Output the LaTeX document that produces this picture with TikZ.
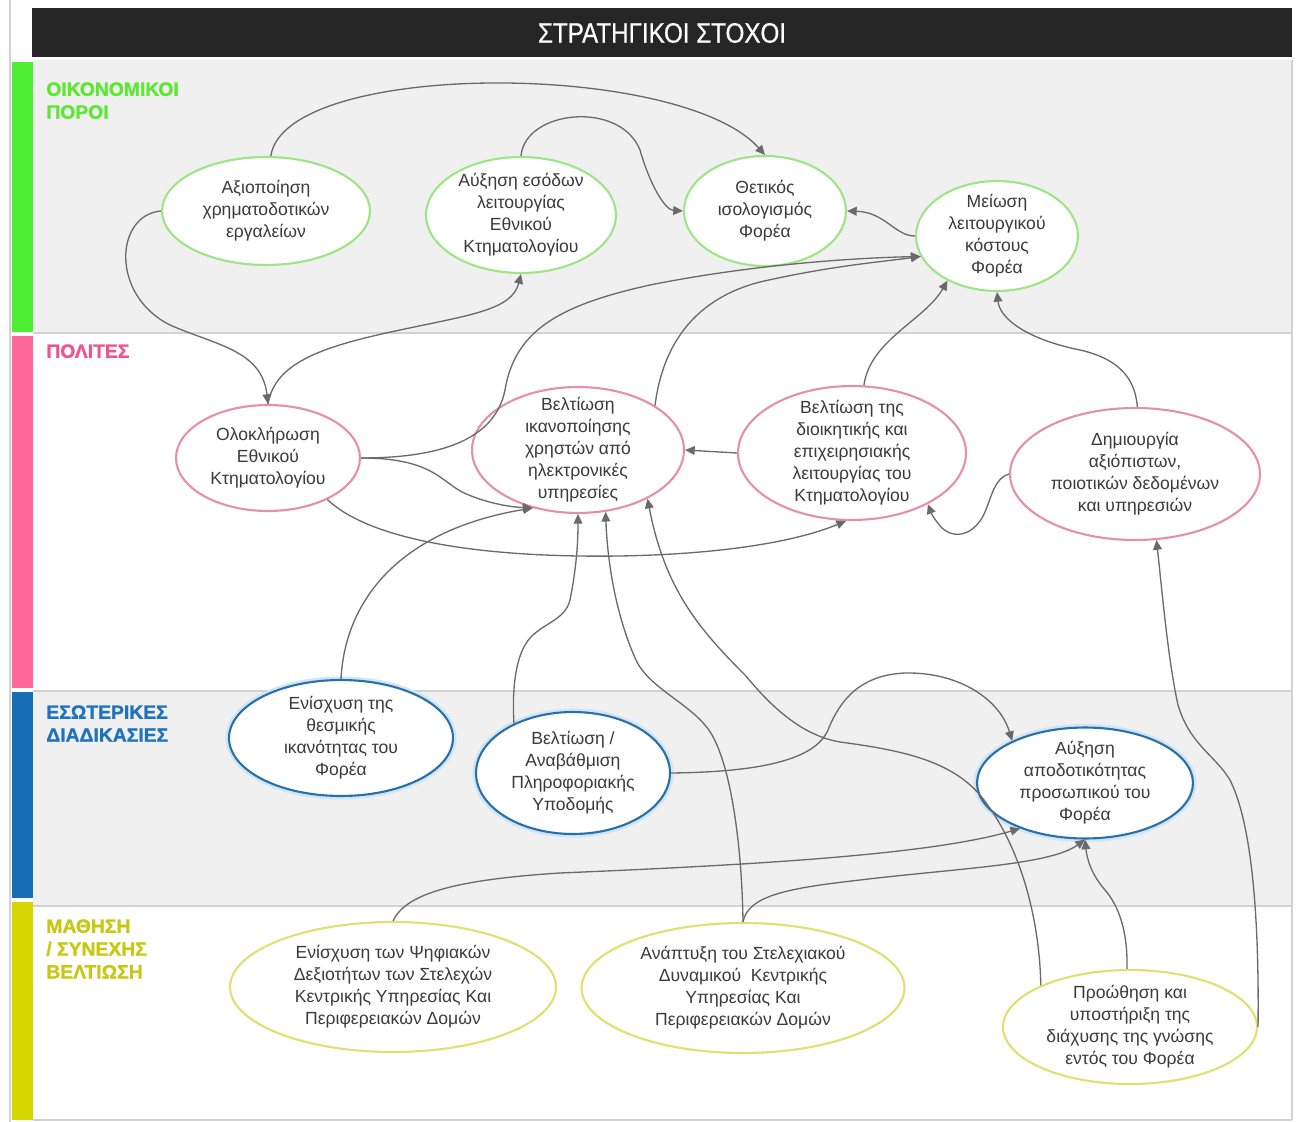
\documentclass[tikz,border=0pt]{standalone}
\usepackage{fontspec}
\setmainfont{Liberation Sans}
\newfontfamily\titlefont[FakeStretch=0.86,FakeBold=0.6]{Liberation Sans}
\newfontfamily\lblfont[FakeBold=1.2]{Liberation Sans Bold}
\usetikzlibrary{arrows.meta,shapes.geometric}
\definecolor{bandgray}{HTML}{F0F0F0}
\definecolor{sepgray}{HTML}{D2D2D2}
\definecolor{titlebg}{HTML}{262626}
\definecolor{stripeG}{HTML}{4DEE33}
\definecolor{stripeP}{HTML}{FF6699}
\definecolor{stripeB}{HTML}{166EB4}
\definecolor{stripeY}{HTML}{D6D600}
\definecolor{lblG}{HTML}{5CE830}
\definecolor{lblP}{HTML}{F0558A}
\definecolor{lblB}{HTML}{1F72C0}
\definecolor{lblY}{HTML}{C8C814}
\definecolor{ellG}{HTML}{9EE586}
\definecolor{ellP}{HTML}{E68FAA}
\definecolor{ellB}{HTML}{2A6FA8}
\definecolor{ellY}{HTML}{E0E070}
\definecolor{glowB}{HTML}{CFE6F7}
\definecolor{textgray}{HTML}{3A3A3A}
\definecolor{conncol}{HTML}{6A6A6A}
\tikzset{
  txt/.style={font=\fontsize{10}{12.5}\selectfont, text=textgray, align=center, inner sep=0pt},
  ell/.style={ellipse, draw, fill=white, line width=1.2pt, inner sep=0pt},
  ellg/.style={ell, draw=ellG},
  ellp/.style={ell, draw=ellP},
  ellb/.style={ell, draw=ellB, preaction={draw=glowB, line width=4pt}},
  elly/.style={ell, draw=ellY},
  lbl/.style={font=\lblfont\fontsize{11}{13}\selectfont, anchor=north west, align=left, inner sep=0pt},
  conn/.style={draw=conncol, line width=0.75pt, -{Triangle[length=5.5pt,width=5pt]}},
  sepline/.style={draw=sepgray, line width=1.5pt}
}
\begin{document}
\begin{tikzpicture}[x=0.02cm, y=-0.02cm]
\useasboundingbox (0,0) rectangle (1296,1122);
\fill[white] (0,0) rectangle (1296,1122);
% bands
\fill[bandgray] (33,60) rectangle (1292,332);
\fill[bandgray] (33,692) rectangle (1292,905);
\draw[sepline] (33,333) -- (1292,333);
\draw[sepline] (33,691) -- (1292,691);
\draw[sepline] (33,906) -- (1292,906);
\draw[sepline] (1292,60) -- (1292,1120);
\draw[sepline] (33,1120) -- (1292,1120);
\draw[draw=sepgray, line width=0.6pt] (10,0) -- (10,1122);
% title
\fill[titlebg] (32,8) rectangle (1292,57);
\node[text=white, font=\titlefont\fontsize{16}{16}\selectfont] (title) at (662,33) {ΣΤΡΑΤΗΓΙΚΟΙ ΣΤΟΧΟΙ};
% stripes
\fill[stripeG] (12,62) rectangle (33,332);
\fill[stripeP] (12,336) rectangle (33,688);
\fill[stripeB] (12,692) rectangle (33,898);
\fill[stripeY] (12,902) rectangle (33,1120);
% labels
\node[lbl, text=lblG] (L1) at (46,82) {ΟΙΚΟΝΟΜΙΚΟΙ\\ΠΟΡΟΙ};
\node[lbl, text=lblP] (L2) at (46,344) {ΠΟΛΙΤΕΣ};
\node[lbl, text=lblB] (L3) at (46,705) {ΕΣΩΤΕΡΙΚΕΣ\\ΔΙΑΔΙΚΑΣΙΕΣ};
\node[lbl, text=lblY] (L4) at (46,919) {ΜΑΘΗΣΗ\\/ ΣΥΝΕΧΗΣ\\ΒΕΛΤΙΩΣΗ};
% band 1
\node[ellg, minimum width=4.16cm, minimum height=2.16cm, label={[txt]center:Αξιοποίηση\\χρηματοδοτικών\\εργαλείων}] (A1) at (266,211) {};
\node[ellg, minimum width=3.8cm, minimum height=2.32cm, label={[txt]center:Αύξηση εσόδων\\λειτουργίας\\Εθνικού\\Κτηματολογίου}] (A2) at (521,215) {};
\node[ellg, minimum width=3.24cm, minimum height=2.2cm, label={[txt]center:Θετικός\\ισολογισμός\\Φορέα}] (A3) at (765,211) {};
\node[ellg, minimum width=3.24cm, minimum height=2.2cm, label={[txt]center:Μείωση\\λειτουργικού\\κόστους\\Φορέα}] (A4) at (997,236) {};
% band 2
\node[ellp, minimum width=3.68cm, minimum height=2.12cm, label={[txt]center:Ολοκλήρωση\\Εθνικού\\Κτηματολογίου}] (B1) at (268,458) {};
\node[ellp, minimum width=4.24cm, minimum height=2.52cm, label={[txt]center:Βελτίωση\\ικανοποίησης\\χρηστών από\\ηλεκτρονικές\\υπηρεσίες}] (B2) at (578,450) {};
\node[ellp, minimum width=4.56cm, minimum height=2.68cm, label={[txt]center:Βελτίωση της\\διοικητικής και\\επιχειρησιακής\\λειτουργίας του\\Κτηματολογίου}] (B3) at (852,453) {};
\node[ellp, minimum width=5.0cm, minimum height=2.64cm, label={[txt]center:Δημιουργία\\αξιόπιστων,\\ποιοτικών δεδομένων\\και υπηρεσιών}] (B4) at (1135,474) {};
% band 3
\node[ellb, minimum width=4.48cm, minimum height=2.32cm, label={[txt]center:Ενίσχυση της\\θεσμικής\\ικανότητας του\\Φορέα}] (C1) at (341,738) {};
\node[ellb, minimum width=3.88cm, minimum height=2.44cm, label={[txt]center:Βελτίωση /\\Αναβάθμιση\\Πληροφοριακής\\Υποδομής}] (C2) at (573,773) {};
\node[ellb, minimum width=4.32cm, minimum height=2.22cm, label={[txt]center:Αύξηση\\αποδοτικότητας\\προσωπικού του\\Φορέα}] (C3) at (1085,783) {};
% band 4
\node[elly, minimum width=6.52cm, minimum height=2.6cm, label={[txt]center:Ενίσχυση των Ψηφιακών\\Δεξιοτήτων των Στελεχών\\Κεντρικής Υπηρεσίας Και\\Περιφερειακών Δομών}] (D1) at (393,987) {};
\node[elly, minimum width=6.46cm, minimum height=2.6cm, label={[txt]center:Ανάπτυξη του Στελεχιακού\\Δυναμικού~~Κεντρικής\\Υπηρεσίας Και\\Περιφερειακών Δομών}] (D2) at (743,988) {};
\node[elly, minimum width=5.08cm, minimum height=2.28cm, label={[txt]center:Προώθηση και\\υποστήριξη της\\διάχυσης της γνώσης\\εντός του Φορέα}] (D3) at (1130,1027) {};
% connectors
\draw[conn] (A1.85) .. controls (285,60) and (680,60) .. (A3.north);
\draw[conn] (A1.west) .. controls (115,215) and (110,295) .. (170,325) .. controls (215,345) and (262,350) .. (B1.north);
\draw[conn] (B1.north) .. controls (275,360) and (330,345) .. (400,330) .. controls (470,315) and (512,310) .. (A2.south);
\draw[conn] (A2.north) .. controls (525,110) and (620,100) .. (640,150) .. controls (650,185) and (665,210) .. (A3.west);
\draw[conn] (A4.west) .. controls (895,236) and (885,212) .. (A3.east);
\draw[conn] (B1.east) .. controls (440,458) and (495,440) .. (505,390) .. controls (515,330) and (560,305) .. (650,285) .. controls (750,265) and (850,258) .. (A4.195);
\draw[conn] (B2.30) .. controls (662,350) and (690,300) .. (760,282) .. controls (830,266) and (880,262) .. (A4.195);
\draw[conn] (B3.80) .. controls (870,340) and (925,320) .. (A4.222);
\draw[conn] (B4.88) .. controls (1135,375) and (1115,358) .. (1080,350) .. controls (1030,340) and (1000,320) .. (A4.south);
\draw[conn] (B3.west) -- (B2.east);
\draw[conn] (B1.east) .. controls (430,458) and (440,480) .. (462,492) .. controls (485,503) and (510,507) .. (B2.232);
\draw[conn] (C1.north) .. controls (345,600) and (400,530) .. (B2.232);
\draw[conn] (B1.-35) .. controls (370,540) and (480,558) .. (620,556) .. controls (730,554) and (800,540) .. (B3.-95);
\draw[conn] (B4.west) .. controls (995,478) and (992,495) .. (985,512) .. controls (975,535) and (955,540) .. (942,528) .. controls (935,520) and (932,515) .. (B3.-34);
\draw[conn] (C2.140) .. controls (512,690) and (515,655) .. (530,638) .. controls (545,622) and (565,620) .. (570,600) .. controls (576,570) and (578,545) .. (B2.-90);
\draw[conn] (D2.north) .. controls (742,850) and (732,770) .. (712,735) .. controls (695,705) and (650,690) .. (636,660) .. controls (620,625) and (608,575) .. (B2.-66);
\draw[conn] (D3.155) .. controls (1040,930) and (1025,850) .. (980,795) .. controls (950,760) and (900,750) .. (840,742) .. controls (800,735) and (770,705) .. (745,675) .. controls (700,630) and (665,590) .. (B2.-35);
\draw[conn] (D1.north) .. controls (405,895) and (450,880) .. (560,873) .. controls (750,865) and (930,855) .. (C3.215);
\draw[conn] (D2.north) .. controls (748,895) and (790,888) .. (860,880) .. controls (960,868) and (1050,865) .. (C3.south);
\draw[conn] (D3.93) .. controls (1128,930) and (1118,905) .. (1105,890) .. controls (1092,875) and (1087,860) .. (C3.south);
\draw[conn] (D3.east) .. controls (1259,940) and (1255,830) .. (1230,780) .. controls (1215,755) and (1190,745) .. (1178,705) .. controls (1168,660) and (1162,590) .. (B4.-72);
\draw[conn] (C2.east) .. controls (760,772) and (815,760) .. (828,730) .. controls (840,700) and (860,675) .. (905,673) .. controls (960,672) and (1000,700) .. (C3.150);
\end{tikzpicture}
\end{document}
